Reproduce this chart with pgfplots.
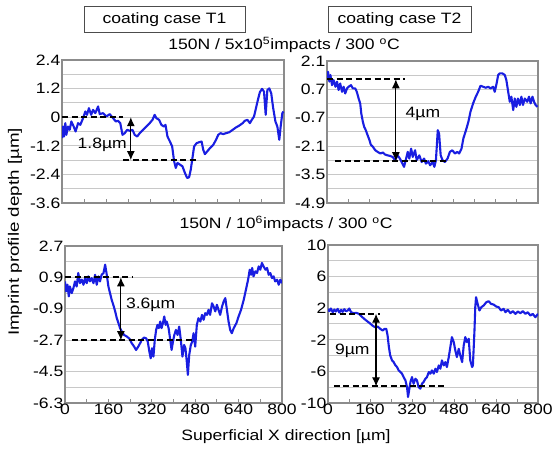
\documentclass[border=0pt]{standalone}
\usepackage{fontspec}
\setmainfont{Liberation Sans}
\usepackage{pgfplots}
\pgfplotsset{compat=1.18}
\usetikzlibrary{arrows.meta}
\definecolor{curve}{RGB}{25,30,225}
\definecolor{frame}{RGB}{140,140,140}
\definecolor{gridc}{RGB}{200,200,200}
\newcommand{\lbl}{\fontsize{15}{17}\selectfont}
\newcommand{\sx}[1]{\scalebox{1.17}[1]{#1}}
\tikzset{arr/.style={{Latex[length=9pt,width=8pt]}-{Latex[length=9pt,width=8pt]}, line width=1.1pt}}
\pgfplotsset{
  panel/.style={scale only axis, anchor=south west,
    xmin=0, xmax=800, xtick={0,160,320,480,640,800},
    minor x tick num=1, minor y tick num=1,
    xtick pos=bottom,
    ymajorgrids, yminorgrids,
    major grid style={gridc, line width=1pt},
    minor grid style={gridc, line width=1pt},
    axis line style={frame, line width=1.1pt},
    tick style={frame, line width=1pt}, tick align=inside,
    major tick length=3.5pt, minor tick length=3.5pt,
    ytick style={draw=none},
    ticklabel style={font=\lbl},
    xticklabel style={inner sep=1pt},
    yticklabel style={inner sep=1.5pt},
  },
  xlab/.style={xticklabels={\sx{0},\sx{160},\sx{320},\sx{480},\sx{640},\sx{800}}},
  prof/.style={color=curve, line width=2.1pt, no marks, line join=round},
  dash/.style={black, line width=2.1pt, dash pattern=on 6pt off 3.5pt, no marks},
}
\begin{document}
\begin{tikzpicture}
\useasboundingbox (0pt,0pt) rectangle (553pt,454pt);

% headers
\node[draw=black!70, line width=1pt, minimum width=161pt, minimum height=26pt,
  font=\lbl] at (164.5pt,434pt) {\sx{coating case T1}};
\node[draw=black!70, line width=1pt, minimum width=143pt, minimum height=26pt,
  font=\lbl] at (399.5pt,434pt) {\sx{coating case T2}};
\node[font=\lbl] at (284pt,409pt) {\sx{150N / 5x10\textsuperscript{5}impacts / 300 \textsuperscript{o}C}};
\node[font=\lbl] at (286pt,230pt) {\sx{150N / 10\textsuperscript{6}impacts / 300 \textsuperscript{o}C}};
\node[font=\lbl, rotate=90] at (15pt,222pt) {\scalebox{1.25}[1]{Imprint profile depth [µm]}};
\node[font=\lbl] at (286pt,17pt) {\sx{Superficial X direction [µm]}};

% top left
\begin{axis}[panel, at={(62pt,251pt)}, width=222pt, height=143pt,
  ymin=-3.6, ymax=2.4, ytick={-3.6,-2.4,-1.2,0,1.2,2.4},
  yticklabels={\sx{-3.6},\sx{-2.4},\sx{-1.2},\sx{0},\sx{1.2},\sx{2.4}}, xticklabels={}]
\addplot[prof] coordinates {
(0,-0.88)(3.6,-0.39)(7.2,-0.81)(12,-0.25)(15.6,-0.74)(21.7,-0.39)(27.7,-0.53)(33.7,-0.18)
(42,-0.39)(49,-0.60)(58,-0.25)(66,-0.32)(76,-0.04)(84,0.24)(90,0.10)(97,0.38)(105,0.10)
(112,0.31)(120,0.17)(130,0.45)(136,0.13)(148,0.17)(160,0.03)(172,0.13)(184,-0.04)(194,-0.18)
(202,-0.15)(210,-0.25)(218,-0.74)(226,-0.67)(235,-0.53)(244,-0.57)(254,-0.53)(262,-0.74)
(271,-0.81)(280,-0.67)(292,-0.53)(304,-0.39)(316,-0.25)(326,-0.11)(334,0.10)(340,-0.04)
(350,-0.11)(358,-0.32)(367,-0.39)(373,-0.32)(380,-0.81)(389,-1.02)(397,-1.23)(404,-1.85)
(410,-2.13)(416,-1.92)(425,-1.99)(434,-2.06)(443,-2.34)(451,-2.55)(458,-2.52)(464,-2.20)
(470,-1.72)(476,-1.23)(485,-1.09)(494,-1.05)(503,-1.02)(509,-1.37)(515,-1.55)(523,-1.44)
(533,-1.30)(545,-1.16)(555,-0.95)(563,-0.74)(571,-0.67)(581,-0.71)(591,-0.67)(603,-0.63)
(615,-0.53)(627,-0.43)(639,-0.35)(651,-0.25)(659,-0.15)(668,-0.11)(677,-0.25)(684,-0.11)
(692,0.03)(699,0.38)(706,0.73)(713,1.05)(721,1.19)(728,1.07)(734,0.10)(740,1.14)(747,1.21)
(754,1.00)(761,0.38)(769,-0.18)(776,-0.39)(783,-0.95)(788,-0.39)(794,0.17)(798,0.24)
};
\addplot[dash] coordinates {(0,0)(220,0)};
\addplot[dash] coordinates {(220,-1.8)(491,-1.8)};
\draw[arr] (axis cs:248,0) -- (axis cs:248,-1.8);
\node[font=\lbl, anchor=east, inner sep=1pt] at (axis cs:238,-1.16) {\sx{1.8µm}};
\end{axis}

% top right
\begin{axis}[panel, at={(327pt,251pt)}, width=211pt, height=142pt,
  ymin=-4.9, ymax=2.1, ytick={-4.9,-3.5,-2.1,-0.7,0.7,2.1},
  yticklabels={\sx{-4.9},\sx{-3.5},\sx{-2.1},\sx{-0.7},\sx{0.7},\sx{2.1}}, xticklabels={}]
\addplot[prof] coordinates {
(0,1.24)(4,1.57)(9,1.08)(13,1.41)(19,0.91)(25,1.16)(32,0.83)(38,1.08)(44,0.67)(50,0.99)
(57,0.58)(63,0.83)(69,0.50)(76,0.75)(82,0.83)(91,0.91)(98,0.75)(107,0.75)(113,0.58)(120,0.25)
(126,0.00)(130,-0.49)(136,-0.90)(141,-1.15)(147,-1.31)(154,-1.56)(161,-1.80)(166,-2.02)
(174,-2.13)(183,-2.30)(192,-2.38)(202,-2.46)(212,-2.41)(220,-2.51)(229,-2.55)(239,-2.58)
(249,-2.63)(258,-2.79)(267,-2.55)(275,-2.68)(283,-2.88)(292,-3.12)(300,-2.71)(306,-2.38)
(312,-2.71)(319,-2.22)(325,-2.63)(334,-2.30)(340,-2.79)(350,-2.55)(359,-2.88)(368,-2.71)
(375,-2.96)(384,-2.84)(391,-3.04)(401,-2.88)(407,-3.12)(413,-2.79)(420,-1.31)(425,-1.48)
(431,-2.55)(438,-2.79)(447,-2.88)(457,-2.71)(466,-2.38)(475,-2.30)(485,-2.46)(494,-2.38)
(501,-2.46)(510,-2.22)(517,-1.72)(527,-1.31)(536,-0.90)(544,-0.40)(554,0.01)(564,0.34)
(573,0.58)(582,0.88)(592,0.83)(602,0.78)(611,0.83)(620,0.75)(630,0.83)(636,0.58)(643,0.99)
(649,1.41)(655,1.49)(665,1.49)(674,1.41)(680,1.16)(687,0.58)(693,0.09)(699,0.34)(706,-0.32)
(712,0.25)(718,-0.16)(724,0.25)(731,-0.07)(737,0.34)(743,-0.07)(750,0.25)(759,0.09)(766,0.34)
(772,0.01)(779,0.34)(785,0.09)(791,-0.07)(798,-0.16)
};
\addplot[dash] coordinates {(0,1.2)(296,1.2)};
\addplot[dash] coordinates {(32,-2.84)(460,-2.84)};
\draw[arr] (axis cs:261,1.2) -- (axis cs:261,-2.84);
\node[font=\lbl, anchor=west] at (axis cs:285,-0.5) {\sx{4µm}};
\end{axis}

% bottom left
\begin{axis}[panel, xlab, at={(65pt,51pt)}, width=217pt, height=157pt,
  ymin=-6.3, ymax=2.7, ytick={-6.3,-4.5,-2.7,-0.9,0.9,2.7},
  yticklabels={\sx{-6.3},\sx{-4.5},\sx{-2.7},\sx{-0.9},\sx{0.9},\sx{2.7}}]
\addplot[prof] coordinates {
(0,0.67)(4,0.10)(9,0.48)(14,-0.19)(18,0.38)(25,0.00)(31,0.29)(37,0.67)(43,0.38)(49,1.15)
(55,0.57)(62,0.77)(68,0.48)(74,0.86)(80,0.57)(86,0.96)(92,0.67)(98,0.86)(105,0.57)(111,1.05)
(117,0.48)(123,0.96)(129,0.67)(135,1.05)(142,1.15)(148,1.63)(154,1.05)(160,0.38)(166,0.00)
(172,-0.38)(178,-0.67)(185,-1.05)(191,-1.44)(197,-1.72)(203,-2.01)(209,-2.20)(218,-2.40)
(228,-2.49)(238,-2.62)(246,-2.87)(255,-3.07)(262,-3.26)(270,-3.07)(277,-2.87)(283,-2.68)
(291,-2.55)(299,-2.59)(305,-2.78)(311,-3.35)(316,-3.74)(321,-3.16)(326,-3.64)(331,-2.68)
(336,-2.11)(341,-1.82)(346,-2.01)(351,-1.63)(356,-2.01)(361,-1.72)(366,-1.34)(371,-1.82)
(375,-1.63)(382,-2.01)(388,-2.68)(393,-3.26)(398,-2.78)(403,-2.40)(409,-2.11)(415,-2.40)
(421,-1.92)(427,-2.68)(433,-3.64)(439,-2.97)(444,-3.16)(449,-3.93)(453,-4.69)(458,-3.54)
(464,-2.97)(469,-2.78)(474,-2.30)(480,-3.07)(486,-1.82)(492,-1.44)(499,-1.63)(505,-1.25)
(511,-1.53)(517,-1.15)(523,-1.25)(529,-0.96)(535,-1.25)(542,-0.58)(548,-0.77)(554,-1.05)
(560,-0.67)(566,-0.96)(572,-1.25)(579,-0.77)(585,-0.48)(591,-0.29)(597,-0.96)(603,-1.63)
(609,-2.11)(615,-2.30)(622,-2.01)(632,-1.72)(640,-1.34)(649,-0.96)(659,-0.38)(667,0.19)
(675,0.77)(681,1.34)(686,1.05)(690,1.44)(695,0.96)(702,1.25)(708,1.15)(714,1.53)(720,1.34)
(726,1.73)(732,1.53)(739,1.34)(745,1.44)(751,1.05)(757,1.15)(763,0.86)(769,0.96)(775,0.67)
(782,0.77)(788,0.48)(794,0.77)(800,0.57)
};
\addplot[dash] coordinates {(0,0.9)(252,0.9)};
\addplot[dash] coordinates {(25,-2.7)(474,-2.7)};
\draw[arr] (axis cs:206,0.9) -- (axis cs:206,-2.7);
\node[font=\lbl, anchor=west] at (axis cs:212,-0.67) {\sx{3.6µm}};
\end{axis}

% bottom right
\begin{axis}[panel, xlab, at={(328pt,51pt)}, width=210pt, height=158pt,
  ymin=-10, ymax=10, ytick={-10,-6,-2,2,6,10},
  yticklabels={\sx{-10},\sx{-6},\sx{-2},\sx{2},\sx{6},\sx{10}}]
\addplot[prof] coordinates {
(0,1.92)(5,1.62)(11,1.96)(18,1.49)(24,1.83)(30,1.58)(37,1.92)(43,1.45)(50,1.79)(56,1.54)
(62,1.87)(69,1.62)(75,1.71)(81,1.96)(88,1.49)(98,1.37)(108,1.41)(118,1.28)(128,0.95)(138,0.65)
(149,0.36)(159,0.11)(169,-0.19)(179,-0.40)(189,-0.32)(199,-0.61)(208,-0.82)(216,-0.61)
(222,-0.61)(227,-1.45)(232,-2.93)(237,-3.98)(244,-4.61)(250,-4.82)(257,-5.24)(263,-5.45)
(269,-5.87)(276,-6.08)(282,-6.29)(288,-6.72)(295,-7.14)(301,-7.98)(305,-9.24)(309,-8.40)
(314,-7.35)(320,-6.72)(326,-7.56)(333,-6.93)(339,-7.14)(345,-7.98)(352,-8.19)(358,-7.56)
(364,-7.35)(371,-6.93)(377,-6.72)(384,-6.08)(390,-6.29)(396,-5.87)(403,-6.29)(409,-5.66)
(415,-6.08)(422,-5.24)(428,-5.66)(434,-4.61)(441,-5.24)(447,-4.82)(453,-5.45)(460,-4.19)
(466,-2.93)(472,-1.66)(479,-2.29)(485,-3.35)(491,-4.19)(498,-3.14)(504,-3.98)(511,-4.82)
(517,-2.72)(523,-1.66)(529,-2.29)(536,-1.87)(542,-4.61)(549,-5.45)(552,-5.24)(558,-0.82)
(561,2.13)(564,3.39)(570,2.55)(577,1.71)(584,2.13)(593,2.34)(603,2.76)(612,2.88)(621,2.55)
(631,2.46)(641,2.21)(650,2.13)(659,1.71)(669,1.92)(676,1.49)(685,1.79)(695,1.37)(704,1.62)
(714,1.28)(723,1.58)(733,1.37)(742,1.62)(752,1.28)(761,1.49)(771,1.07)(780,1.28)(790,0.86)
(800,1.28)
};
\addplot[dash] coordinates {(9,1.3)(199,1.3)};
\addplot[dash] coordinates {(22,-7.9)(453,-7.9)};
\draw[arr] (axis cs:183,1.3) -- (axis cs:183,-7.9);
\node[font=\lbl, anchor=east] at (axis cs:172,-3.35) {\sx{9µm}};
\end{axis}
\end{tikzpicture}
\end{document}
